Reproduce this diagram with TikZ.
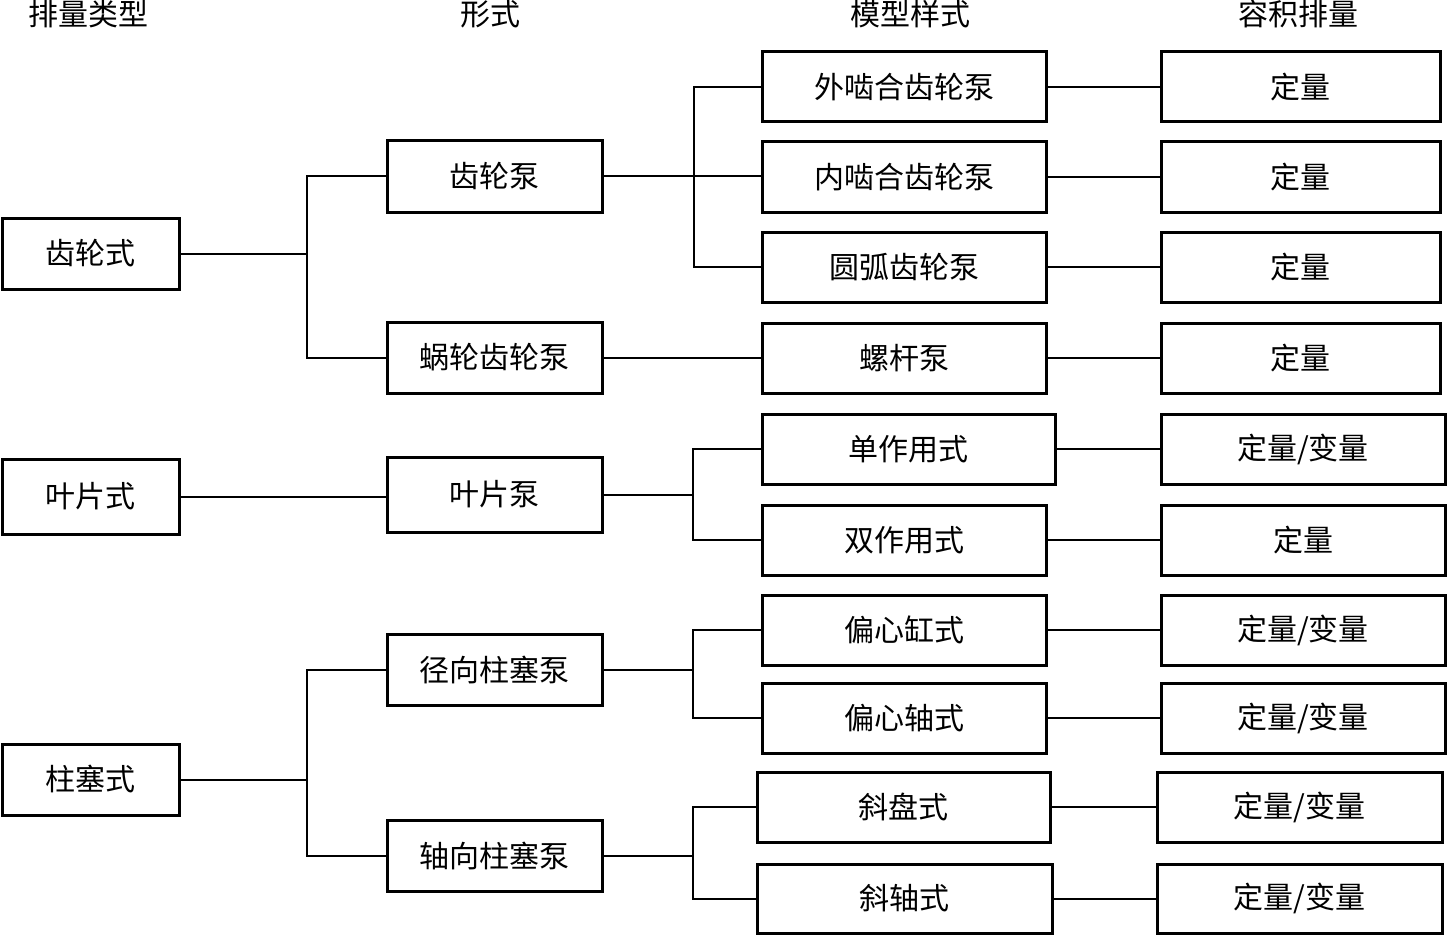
\documentclass[tikz,border=0pt]{standalone}
\usepackage{fontspec}
\newfontfamily\cjk{Noto Sans CJK SC}
\begin{document}
\begin{tikzpicture}[x=1pt,y=-1pt,
  box/.style={draw=black,line width=3pt,fill=white,inner sep=0pt,font=\cjk\fontsize{30}{30}\selectfont},
  hdr/.style={inner sep=0pt,font=\cjk\fontsize{30}{30}\selectfont},
  conn/.style={draw=black,line width=2pt}]
\useasboundingbox (0,0) rectangle (1447,936);
\newcommand\bx[6]{\node[box,minimum width={#4-#2},minimum height={#5-#3}] (#1) at ({(#2+#4)/2},{(#3+#5)/2}) {#6};}
% headers
\node[hdr] (h1) at (88,14) {排量类型};
\node[hdr] (h2) at (490,14) {形式};
\node[hdr] (h3) at (910,14) {模型样式};
\node[hdr] (h4) at (1298,14) {容积排量};
% column 1
\bx{a1}{2}{218}{179}{289}{齿轮式}
\bx{a2}{2}{459}{179}{534}{叶片式}
\bx{a3}{2}{744}{179}{815}{柱塞式}
% column 2
\bx{b1}{387}{141}{602}{212}{齿轮泵}
\bx{b2}{387}{322}{602}{393}{蜗轮齿轮泵}
\bx{b3}{387}{457}{602}{532}{叶片泵}
\bx{b4}{387}{634}{602}{705}{径向柱塞泵}
\bx{b5}{387}{820}{602}{891}{轴向柱塞泵}
% column 3
\bx{c1}{762}{52}{1046}{122}{外啮合齿轮泵}
\bx{c2}{762}{142}{1046}{212}{内啮合齿轮泵}
\bx{c3}{762}{232}{1046}{302}{圆弧齿轮泵}
\bx{c4}{762}{323}{1046}{393}{螺杆泵}
\bx{c5}{762}{414}{1055}{484}{单作用式}
\bx{c6}{762}{505}{1046}{575}{双作用式}
\bx{c7}{762}{595}{1046}{665}{偏心缸式}
\bx{c8}{762}{683}{1046}{753}{偏心轴式}
\bx{c9}{757}{772}{1050}{842}{斜盘式}
\bx{c10}{757}{864}{1052}{933}{斜轴式}
% column 4
\bx{d1}{1161}{52}{1440}{122}{定量}
\bx{d2}{1161}{142}{1440}{212}{定量}
\bx{d3}{1161}{232}{1440}{302}{定量}
\bx{d4}{1161}{323}{1440}{393}{定量}
\bx{d5}{1161}{414}{1445}{484}{定量/变量}
\bx{d6}{1161}{505}{1445}{575}{定量}
\bx{d7}{1161}{595}{1445}{665}{定量/变量}
\bx{d8}{1161}{683}{1445}{753}{定量/变量}
\bx{d9}{1157}{772}{1442}{842}{定量/变量}
\bx{d10}{1157}{864}{1442}{933}{定量/变量}
% junctions
\coordinate (j1) at (307,254);
\coordinate (j2) at (694,177);
\coordinate (j3) at (693,494);
\coordinate (j4) at (307,779);
\coordinate (j5) at (693,669);
\coordinate (j6) at (693,855);
% connectors
\draw[conn] (a1.east) -- (a1.east -| j1);
\draw[conn] (b1.west) -| (j1) |- (b2.west);
\draw[conn] (b1.east) -- (b1.east -| c2.west);
\draw[conn] (c1.west) -| (j2) |- (c3.west);
\draw[conn] (b2.east) -- (b2.east -| c4.west);
\draw[conn] (a2.east) -- (a2.east -| b3.west);
\draw[conn] (b3.east) -- (b3.east -| j3);
\draw[conn] (c5.west) -| (j3) |- (c6.west);
\draw[conn] (a3.east) -- (a3.east -| j4);
\draw[conn] (b4.west) -| (j4) |- (b5.west);
\draw[conn] (b4.east) -- (b4.east -| j5);
\draw[conn] (c7.west) -| (j5) |- (c8.west);
\draw[conn] (b5.east) -- (b5.east -| j6);
\draw[conn] (c9.west) -| (j6) |- (c10.west);
\foreach \i in {1,...,10} {\draw[conn] (c\i.east) -- (c\i.east -| d\i.west);}
\end{tikzpicture}
\end{document}
